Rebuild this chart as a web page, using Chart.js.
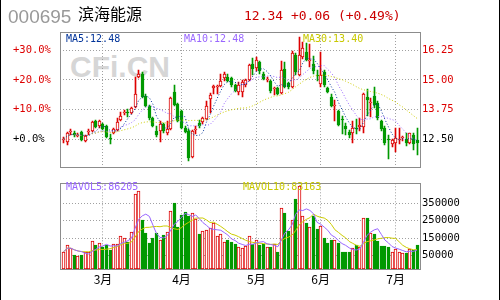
<!DOCTYPE html>
<html>
<head>
<meta charset="utf-8">
<script src="https://cdn.jsdelivr.net/npm/chart.js@4"></script>
<style>
  html, body { margin: 0; padding: 0; background: #fff; }
  #wrap { position: relative; width: 500px; height: 300px; overflow: hidden; background: #fff; }
  #wrap canvas { position: absolute; left: 0; }
  .txt { position: absolute; white-space: pre; line-height: 1; }
  .mono { font-family: "DejaVu Sans Mono", monospace; }
  #mark { left: 70px; top: 50px; font: bold 30px "Liberation Sans", Arial, sans-serif; color: #d6d6d6; }
  #code { left: 8px; top: 7px; font-size: 19px; font-family: "Liberation Sans", Arial, sans-serif; color: #999; }
  #name { left: 78px; top: 5px; font-size: 16px; font-family: "Noto Sans CJK SC", sans-serif; color: #000; }
  #quote { left: 244px; top: 9px; font-size: 13px; color: #cc0000; }
  .leg { font-size: 10px; top: 34px; }
  .edge { position: absolute; top: 0; width: 1px; height: 300px; background: #000; }
</style>
</head>
<body>
<div id="wrap">
  <div class="txt" id="mark">CFi.CN</div>
  <canvas id="price" width="500" height="175" style="top:0"></canvas>
  <canvas id="volume" width="500" height="125" style="top:175px"></canvas>
  <div class="txt" id="code"></div>
  <div class="txt" id="name"></div>
  <div class="txt mono" id="quote"></div>
  <div class="txt mono leg" id="ma5" style="left:66px;color:#003399"></div>
  <div class="txt mono leg" id="ma10" style="left:184px;color:#9966ff"></div>
  <div class="txt mono leg" id="ma30" style="left:303px;color:#c8c800"></div>
  <div class="txt mono leg" id="mavol5" style="left:66px;top:182px;color:#9966ff"></div>
  <div class="txt mono leg" id="mavol10" style="left:243px;top:182px;color:#c8c800"></div>
  <div class="edge" style="left:0"></div>
  <div class="edge" style="left:499px"></div>
</div>
<script>
// header / legend texts as shown
const stockCode = '000695';
const stockName = '滨海能源';
const quoteText = '12.34 +0.06 (+0.49%)';
const legendTexts = ['MA5:12.48', 'MA10:12.48', 'MA30:13.40', 'MAVOL5:86205', 'MAVOL10:83163'];

// daily candles, late Feb .. mid Jul
const opens = [
  12.48, 12.39, 12.81, 12.76, 12.65, 12.79, 12.44, 12.80, 12.85, 13.28,
  13.06, 13.15, 13.06, 12.56, 12.78, 12.90, 13.33, 13.59, 13.66, 13.61,
  13.86, 15.11, 15.25, 14.33, 13.89, 13.40, 12.87, 12.87, 13.15, 12.75,
  12.92, 14.49, 13.98, 13.68, 12.96, 12.85, 11.74, 12.90, 13.20, 13.22,
  13.36, 14.20, 14.65, 14.70, 14.75, 15.07, 15.14, 15.07, 14.79, 14.50,
  14.50, 14.78, 15.00, 15.68, 15.50, 15.75, 15.26, 15.02, 14.95, 14.60,
  14.67, 14.47, 15.47, 14.86, 14.71, 16.05, 15.20, 15.96, 16.17, 15.78,
  15.68, 15.22, 14.82, 15.33, 14.67, 14.29, 13.92, 13.68, 13.36, 13.05,
  12.80, 12.78, 12.97, 13.01, 13.01, 14.30, 14.05, 14.33, 14.03, 13.26,
  12.96, 12.52, 12.29, 12.33, 12.48, 12.55, 12.50, 12.36, 12.67, 12.47
];
const highs = [
  12.61, 12.80, 12.92, 12.86, 12.75, 12.84, 12.68, 12.92, 13.27, 13.33,
  13.33, 13.20, 13.12, 12.71, 13.00, 13.40, 13.64, 13.75, 13.78, 13.86,
  15.14, 15.44, 15.35, 14.40, 13.95, 13.45, 13.05, 13.26, 13.20, 13.26,
  14.30, 14.79, 14.05, 13.75, 13.05, 12.92, 12.90, 13.06, 13.30, 13.45,
  14.10, 14.45, 14.80, 14.80, 15.27, 15.35, 15.24, 15.12, 14.85, 14.92,
  15.00, 15.05, 15.67, 15.92, 15.96, 15.82, 15.33, 15.12, 15.00, 14.70,
  14.72, 15.82, 15.75, 14.92, 16.24, 16.12, 16.79, 16.58, 16.56, 16.50,
  16.00, 15.40, 16.17, 15.40, 14.72, 14.42, 14.14, 13.75, 13.47, 13.19,
  12.90, 13.26, 13.36, 13.40, 14.47, 14.61, 14.24, 14.72, 14.10, 13.30,
  13.05, 12.70, 12.50, 12.96, 12.96, 12.64, 12.78, 12.78, 12.78, 13.00
];
const lows = [
  12.36, 12.25, 12.67, 12.61, 12.58, 12.43, 12.40, 12.70, 12.79, 12.98,
  13.00, 12.90, 12.55, 12.32, 12.74, 12.85, 13.27, 13.54, 13.45, 13.58,
  13.84, 15.07, 14.24, 13.85, 13.30, 13.02, 12.62, 12.40, 12.75, 12.70,
  12.88, 13.90, 13.22, 12.95, 12.78, 11.60, 11.70, 12.71, 13.00, 13.15,
  13.30, 13.61, 14.40, 14.40, 14.70, 14.96, 14.90, 14.70, 14.50, 14.35,
  14.29, 14.72, 14.95, 15.20, 15.36, 15.26, 15.00, 14.93, 14.44, 14.36,
  14.35, 14.42, 14.65, 14.62, 14.68, 15.20, 15.15, 15.90, 15.80, 15.55,
  15.26, 14.95, 14.72, 14.70, 14.45, 13.85, 13.26, 13.05, 12.71, 12.67,
  12.55, 12.35, 12.74, 12.86, 12.78, 13.50, 13.44, 13.82, 13.30, 12.85,
  12.25, 11.67, 12.20, 11.96, 12.30, 12.44, 12.22, 12.30, 12.07, 11.85
];
const closes = [
  12.52, 12.75, 12.84, 12.70, 12.68, 12.46, 12.64, 12.83, 13.24, 13.02,
  13.28, 12.93, 12.60, 12.53, 12.94, 13.24, 13.50, 13.62, 13.63, 13.80,
  14.42, 15.24, 14.30, 13.92, 13.39, 13.06, 12.67, 13.15, 12.87, 12.94,
  14.24, 13.96, 13.26, 12.99, 12.82, 11.71, 12.85, 12.93, 13.06, 13.40,
  13.89, 14.37, 14.75, 14.73, 14.96, 15.24, 14.96, 14.79, 14.54, 14.80,
  14.92, 15.01, 15.61, 15.47, 15.86, 15.36, 15.06, 15.04, 14.53, 14.62,
  14.39, 15.44, 14.71, 14.72, 16.14, 15.33, 16.05, 16.33, 15.86, 15.82,
  15.36, 15.17, 15.20, 14.78, 14.50, 13.92, 13.95, 13.12, 13.31, 12.92,
  12.67, 12.96, 12.93, 13.12, 14.42, 14.14, 14.08, 13.96, 13.40, 12.92,
  12.36, 12.48, 12.46, 12.57, 12.51, 12.58, 12.33, 12.75, 12.29, 12.34
];
const volumes = [
  71500, 113000, 91000, 55000, 50000, 53000, 68000, 68000, 131000, 109000,
  120000, 98000, 111000, 84000, 115000, 116000, 163000, 152000, 129000, 185000,
  400000, 418000, 251000, 179000, 122000, 149000, 179000, 136000, 170000, 185000,
  305000, 352000, 215000, 283000, 298000, 274000, 296000, 260000, 175000, 188000,
  194000, 206000, 235000, 163000, 175000, 127000, 136000, 125000, 118000, 98000,
  91000, 104000, 161000, 116000, 141000, 113000, 116000, 98000, 98000, 116000,
  71500, 319000, 292000, 188000, 256000, 373000, 445000, 274000, 235000, 212000,
  278000, 199000, 221000, 152000, 122000, 140000, 140000, 122000, 68000, 71500,
  68000, 91000, 109000, 98000, 265000, 265000, 181000, 174000, 131000, 104000,
  104000, 98000, 71500, 86000, 71500, 66000, 62000, 89000, 80000, 109000
];

// first trading day of each month (candle index)
const monthStart = [11, 33, 54, 72, 93];
const monthLabels = ['3月', '4月', '5月', '6月', '7月'];

const priceTicks = [12.5, 13.75, 15, 16.25];
const priceLabels = ['12.50', '13.75', '15.00', '16.25'];
const pctLabels = ['+0.0%', '+10.0%', '+20.0%', '+30.0%'];
const volTicks = [50000, 150000, 250000, 350000];
const volLabels = ['50000', '150000', '250000', '350000'];

const RED = '#dd0000';
const GREEN = '#009900';
const GRID = '#a0a0a0';
const X_MIN = -1.04, X_MAX = 99.84;
const PRICE_MIN = 11.35, PRICE_MAX = 17.02;
const VOL_MIN = -27000, VOL_MAX = 463000;
const tickFont = { family: '"DejaVu Sans Mono", monospace', size: 10.5 };

document.getElementById('code').textContent = stockCode;
document.getElementById('name').textContent = stockName;
document.getElementById('quote').textContent = quoteText;
['ma5', 'ma10', 'ma30', 'mavol5', 'mavol10'].forEach((id, i) => {
    document.getElementById(id).textContent = legendTexts[i];
});

const isUp = i => closes[i] >= opens[i];

// moving averages of the read closes / volumes (shorter window at the left edge)
const movingAverage = (values, n) => values.map((v, i) => {
    const win = values.slice(Math.max(0, i - n + 1), i + 1);
    return win.reduce((a, b) => a + b, 0) / win.length;
});
const toPoints = arr => arr.map((y, x) => ({ x, y }));

// grey box round the plot area
const framePlugin = {
    id: 'frame',
    afterDraw(chart) {
        const { left, top, right, bottom } = chart.chartArea;
        const ctx = chart.ctx;
        ctx.save();
        ctx.strokeStyle = '#8c8c8c';
        ctx.lineWidth = 1;
        ctx.strokeRect(Math.round(left) + 0.5, Math.round(top) + 0.5,
            Math.round(right - left), Math.round(bottom - top));
        ctx.restore();
    }
};

// keep the thin bars on whole pixels
const snapPlugin = {
    id: 'snap',
    afterDatasetsUpdate(chart) {
        chart.data.datasets.forEach((ds, di) => {
            const meta = chart.getDatasetMeta(di);
            if (meta.type !== 'bar') return;
            meta.data.forEach(el => {
                el.x = Math.floor(el.x) + 0.5;
                el.y = Math.round(el.y);
                el.base = Math.round(el.base);
                if (el.base === el.y) el.base = el.y + 1;
            });
        });
    }
};

const xScale = (showLabels) => ({
    type: 'linear',
    min: X_MIN,
    max: X_MAX,
    offset: false,
    afterBuildTicks: s => { s.ticks = monthStart.map(v => ({ value: v })); },
    ticks: {
        display: showLabels,
        autoSkip: false,
        maxRotation: 0,
        padding: 3,
        color: '#000',
        font: { family: '"Noto Sans CJK SC", sans-serif', size: 12 },
        callback: (v, i) => monthLabels[i]
    },
    grid: { color: GRID, drawTicks: false, offset: false },
    border: { display: false, dash: [1, 2] },
    afterFit: s => { s.height = showLabels ? 31 : 0; }
});

new Chart(document.getElementById('price'), {
    type: 'bar',
    data: {
        datasets: [
            {
                type: 'bar',
                data: highs.map((h, i) => ({ x: i, y: [lows[i], h] })),
                backgroundColor: c => isUp(c.dataIndex) ? RED : GREEN,
                barThickness: 1,
                grouped: false,
                order: 3
            },
            {
                type: 'bar',
                data: opens.map((o, i) => ({ x: i, y: [o, closes[i]] })),
                backgroundColor: c => isUp(c.dataIndex) ? '#fff' : GREEN,
                borderColor: c => isUp(c.dataIndex) ? RED : GREEN,
                borderWidth: 1,
                borderSkipped: false,
                barThickness: 3,
                minBarLength: 1,
                grouped: false,
                order: 2
            },
            {
                type: 'line', data: toPoints(movingAverage(closes, 30)),
                borderColor: '#cccc00', borderWidth: 1, borderDash: [1, 2], pointRadius: 0, order: 1
            },
            {
                type: 'line', data: toPoints(movingAverage(closes, 10)),
                borderColor: '#9966ff', borderWidth: 1, borderDash: [1, 2], pointRadius: 0, order: 1
            },
            {
                type: 'line', data: toPoints(movingAverage(closes, 5)),
                borderColor: '#003399', borderWidth: 1, borderDash: [1, 2], pointRadius: 0, order: 0
            }
        ]
    },
    options: {
        responsive: false,
        animation: false,
        layout: { padding: { left: 13, right: 0, top: 32, bottom: 7 } },
        plugins: { legend: { display: false }, tooltip: { enabled: false } },
        scales: {
            x: xScale(false),
            yl: {
                position: 'left',
                min: PRICE_MIN,
                max: PRICE_MAX,
                afterBuildTicks: s => { s.ticks = priceTicks.map(v => ({ value: v })); },
                ticks: {
                    crossAlign: 'far',
                    padding: 0,
                    font: tickFont,
                    color: c => c.index === 0 ? '#000' : RED,
                    callback: (v, i) => pctLabels[i]
                },
                grid: { display: false },
                border: { display: false },
                afterFit: s => { s.width = 47; }
            },
            y: {
                position: 'right',
                min: PRICE_MIN,
                max: PRICE_MAX,
                afterBuildTicks: s => { s.ticks = priceTicks.map(v => ({ value: v })); },
                ticks: {
                    padding: 2,
                    font: tickFont,
                    color: c => c.index === 0 ? '#000' : RED,
                    callback: (v, i) => priceLabels[i]
                },
                grid: { color: GRID, drawTicks: false },
                border: { display: false, dash: [1, 2] },
                afterFit: s => { s.width = 80; }
            }
        }
    },
    plugins: [snapPlugin, framePlugin]
});

new Chart(document.getElementById('volume'), {
    type: 'bar',
    data: {
        datasets: [
            {
                type: 'bar',
                data: volumes.map((v, i) => ({ x: i, y: v })),
                base: VOL_MIN,
                backgroundColor: c => isUp(c.dataIndex) ? '#fff' : GREEN,
                borderColor: c => isUp(c.dataIndex) ? RED : GREEN,
                borderWidth: 1,
                borderSkipped: false,
                barThickness: 3,
                grouped: false,
                order: 2
            },
            {
                type: 'line', data: toPoints(movingAverage(volumes, 10)),
                borderColor: '#cccc00', borderWidth: 1, pointRadius: 0, order: 1
            },
            {
                type: 'line', data: toPoints(movingAverage(volumes, 5)),
                borderColor: '#9966ff', borderWidth: 1, pointRadius: 0, order: 0
            }
        ]
    },
    options: {
        responsive: false,
        animation: false,
        layout: { padding: { left: 13, right: 0, top: 3, bottom: 0 } },
        plugins: { legend: { display: false }, tooltip: { enabled: false } },
        scales: {
            x: xScale(true),
            yl: {
                position: 'left',
                min: VOL_MIN,
                max: VOL_MAX,
                ticks: { display: false },
                grid: { display: false },
                border: { display: false },
                afterFit: s => { s.width = 47; }
            },
            y: {
                position: 'right',
                min: VOL_MIN,
                max: VOL_MAX,
                afterBuildTicks: s => { s.ticks = volTicks.map(v => ({ value: v })); },
                ticks: {
                    padding: 2,
                    font: tickFont,
                    color: '#000',
                    callback: (v, i) => volLabels[i]
                },
                grid: { color: GRID, drawTicks: false },
                border: { display: false, dash: [1, 2] },
                afterFit: s => { s.width = 80; }
            }
        }
    },
    plugins: [snapPlugin, framePlugin]
});
</script>
</body>
</html>
